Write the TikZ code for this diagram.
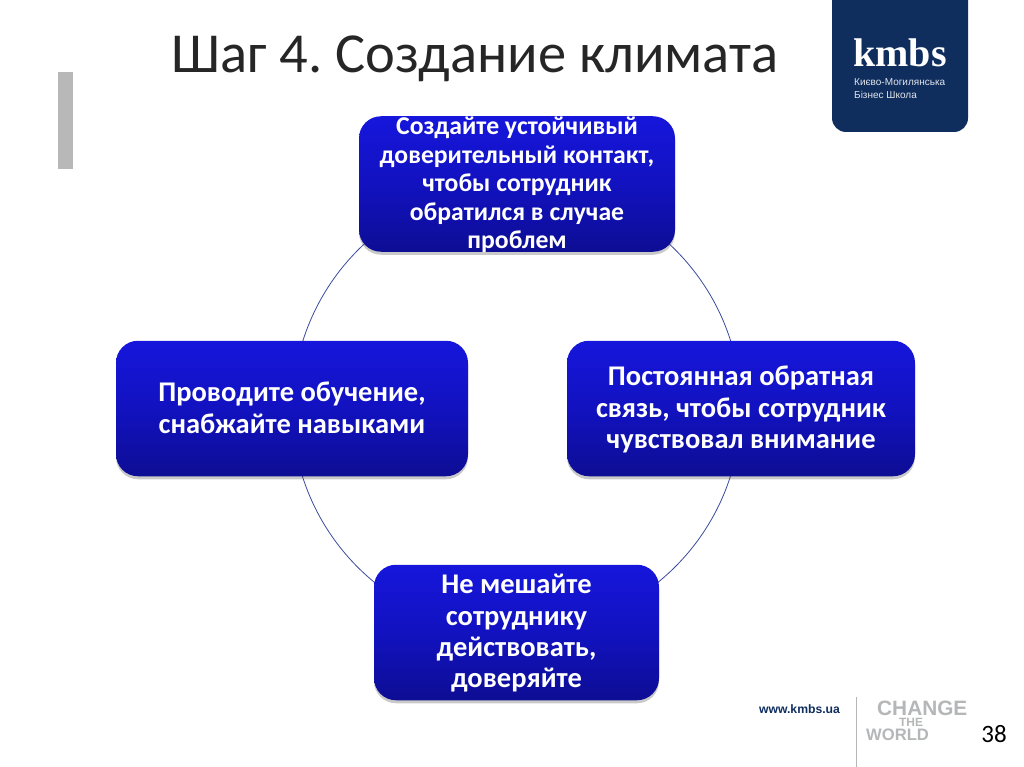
\documentclass[tikz,border=0pt]{standalone}
\usepackage{fontspec}
\setmainfont{Carlito}
\newfontfamily\logofont{Liberation Serif}
\newfontfamily\smallfont{Liberation Sans}
\usetikzlibrary{shadows,backgrounds}
\definecolor{logoblue}{HTML}{0F2E5E}
\definecolor{linkblue}{HTML}{3A4A9C}
\definecolor{footgray}{HTML}{B4B6B8}
\definecolor{boxtop}{HTML}{1616DC}
\definecolor{boxmid}{HTML}{1212C0}
\definecolor{boxbottom}{HTML}{0D0D94}
\tikzset{
  stepbox/.style={rounded corners=22pt, top color=boxtop, bottom color=boxbottom, middle color=boxmid,
    draw=none, text=white, align=center, font=\bfseries\fontsize{28.5}{31.6}\selectfont,
    inner sep=0pt, minimum height=135.5pt, drop shadow={shadow xshift=0pt, shadow yshift=-3pt, opacity=.3, fill=black!70}},
  ringlink/.style={draw=linkblue, line width=.8pt},
  foot/.style={text=footgray, font=\smallfont\bfseries, inner sep=0pt}
}
\begin{document}
\begin{tikzpicture}[x=1pt,y=-1pt]
\frenchspacing
\useasboundingbox (0,0) rectangle (1024,767);
\node[inner sep=0pt, font=\fontsize{56.5}{60}\selectfont, text=black!85] (title) at (475,59) {Шаг 4. Создание климата};
\fill[black!28] (58,72) rectangle (73,169);
% logo
\begin{scope}
\clip (820,0) rectangle (980,140);
\fill[logoblue, rounded corners=14pt] (832,-15) rectangle (968,132);
\end{scope}
\node[inner sep=0pt, text=white, font=\logofont\bfseries\fontsize{40}{40}\selectfont] (logo) at (900,53) {kmbs};
\node[inner sep=0pt, anchor=west, text=white!88!logoblue, align=left, font=\smallfont\fontsize{10}{13}\selectfont] (logosub) at (854,88.5) {Києво-Могилянська\\Бізнес Школа};
% boxes
\node[stepbox, minimum width=316pt] (top) at (517,184) {};
\node[inner sep=0pt, text=white, align=center, font=\bfseries\fontsize{25.7}{28.6}\selectfont] (toptext) at (517,185) {Создайте устойчивый\\доверительный контакт,\\чтобы сотрудник\\обратился в случае\\проблем};
\node[stepbox, minimum width=352pt] (left) at (292,408.5) {};
\node[inner sep=0pt, text=white, align=center, font=\bfseries\fontsize{28.5}{31.6}\selectfont] (lefttext) at (292,407.5) {Проводите обучение,\\снабжайте навыками};
\node[stepbox, minimum width=348pt] (right) at (741,408.5) {};
\node[inner sep=0pt, text=white, align=center, font=\bfseries\fontsize{28.5}{31.6}\selectfont] (righttext) at (741,409.5) {Постоянная обратная\\связь, чтобы сотрудник\\чувствовал внимание};
\node[stepbox, minimum width=285pt] (bottom) at (516.5,632.5) {};
\node[inner sep=0pt, text=white, align=center, font=\bfseries\fontsize{28.5}{31.3}\selectfont] (bottomtext) at (516.5,633.5) {Не мешайте\\сотруднику\\действовать,\\доверяйте};
\begin{scope}[on background layer]
\draw[ringlink] (top.center) arc[start angle=90,end angle=180,radius=224.5pt];
\draw[ringlink] (left.center) arc[start angle=180,end angle=270,radius=224.5pt];
\draw[ringlink] (bottom.center) arc[start angle=270,end angle=360,radius=224.5pt];
\draw[ringlink] (right.center) arc[start angle=0,end angle=90,radius=224.5pt];
\end{scope}
% footer
\node[inner sep=0pt, text=logoblue, font=\smallfont\bfseries\fontsize{12.2}{13}\selectfont] (web) at (799.5,709) {www.kmbs.ua};
\draw[footgray, line width=1pt] (856,697) -- (856,767);
\node[foot, anchor=west, font=\smallfont\bfseries\fontsize{20.8}{22}\selectfont] (change) at (877,708) {CHANGE};
\node[foot, font=\smallfont\bfseries\fontsize{12}{13}\selectfont] (the) at (911,722) {THE};
\node[foot, anchor=west, font=\smallfont\bfseries\fontsize{16.6}{18}\selectfont] (world) at (866,735) {WORLD};
\node[inner sep=0pt, font=\fontsize{25}{25}\selectfont, text=black] (num) at (994,734) {38};
\end{tikzpicture}
\end{document}
